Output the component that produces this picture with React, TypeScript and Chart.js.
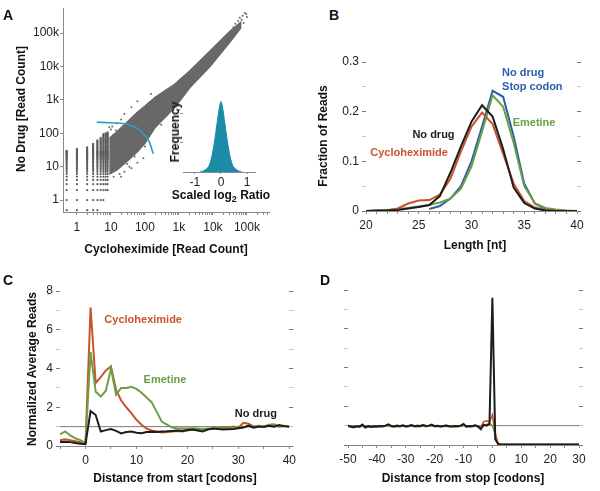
import React, { useEffect, useRef } from 'react';
import { Chart, registerables } from 'chart.js';

Chart.register(...registerables);

const FONT = "'Liberation Sans', Arial, Helvetica, sans-serif";
const RED = '#c9532d';
const GREEN = '#6b9f45';
const BLUE = '#2c5ea9';
const BLACK = '#1c1c1c';
const CLOUD = '#686868';
const TEAL = '#1b8ba8';
const CYAN = '#29a2c0';
const TICK_TEXT = '#222';
const AXIS = '#8a8a8a';

// ---------------- Panel A: scatter of read counts ----------------
const countTickValues = [1, 10, 100, 1000, 10000, 100000];
const countTickLabels = ['1', '10', '100', '1k', '10k', '100k'];
const minorMultipliers = [2, 3, 4, 5, 6, 7, 8, 9];
const bandX = [9, 15, 29, 60, 100, 200, 760, 2100, 8200, 32000, 65000];
const bandLow = [6, 8, 14, 28, 50, 150, 600, 2350, 10000, 55000, 140000];
const bandHigh = [70, 110, 209, 420, 650, 1180, 2960, 7400, 29000, 114000, 210000];
const columnX = [0.5, 1, 2, 3, 4, 5, 6, 7, 8];
const columnTop = [31, 35, 39, 49, 64, 76, 96, 100, 108];
const columnBottom = [0.5, 0.5, 0.5, 0.5, 0.5, 1, 1, 2, 2];
const countLevels = [0.5, 1, 2, 3, 4, 5, 6, 7, 8, 9, 10, 11, 12, 13, 14, 15, 16, 17, 18, 19, 20, 21, 22, 23, 24, 25, 26, 27, 28, 29, 30, 32, 34, 36, 38, 40, 42, 45, 48, 51, 54, 57, 61, 65, 69, 73, 78, 83, 88, 94, 100, 106];
const outlierX = [12, 18, 25, 40, 60, 90, 30, 50, 100, 300, 1000, 15, 20, 25, 40, 60, 150, 45000, 55000, 62000, 70000, 75000, 87000, 95000, 100000, 80000, 40000, 9, 10, 11, 12, 14, 35, 20];
const outlierY = [5, 6, 7, 9, 13, 18, 12, 20, 40, 180, 500, 200, 260, 380, 600, 900, 1500, 190000, 230000, 287000, 250000, 330000, 400000, 370000, 300000, 200000, 150000, 150, 130, 160, 90, 120, 10, 5];
const arcX = [3.8, 9.3, 26, 41.5, 63, 100, 123, 141, 175];
const arcY = [214, 206, 192, 166, 136, 86, 65, 49, 24.5];

// inset histogram
const ratioX = [-0.8, -0.7, -0.6, -0.5, -0.45, -0.4, -0.35, -0.3, -0.25, -0.2, -0.15, -0.1, -0.05, 0, 0.05, 0.1, 0.15, 0.2, 0.25, 0.3, 0.35, 0.4, 0.45, 0.5, 0.6, 0.7, 0.8];
const ratioFreq = [0, 0.01, 0.03, 0.06, 0.09, 0.14, 0.21, 0.3, 0.41, 0.53, 0.66, 0.79, 0.9, 0.96, 0.9, 0.79, 0.66, 0.53, 0.41, 0.3, 0.21, 0.14, 0.09, 0.06, 0.03, 0.01, 0];
const ratioTicks = [-1, 0, 1];

// ---------------- Panel B: read length ----------------
const lengthNt = [20, 21, 22, 23, 24, 25, 26, 27, 28, 29, 30, 31, 32, 33, 34, 35, 36, 37, 38, 39, 40];
const lenCyclo = [0, 0, 0.001, 0.005, 0.015, 0.021, 0.022, 0.033, 0.065, 0.12, 0.17, 0.198, 0.175, 0.115, 0.055, 0.02, 0.007, 0.002, 0, 0, 0];
const lenNoDrug = [0, 0.001, 0.001, 0.002, 0.005, 0.008, 0.012, 0.03, 0.077, 0.13, 0.18, 0.213, 0.19, 0.125, 0.047, 0.016, 0.005, 0.001, 0, 0, 0];
const lenEmetine = [0, 0.001, 0.002, 0.004, 0.006, 0.009, 0.012, 0.017, 0.025, 0.045, 0.09, 0.16, 0.233, 0.21, 0.137, 0.05, 0.016, 0.006, 0.003, 0.001, 0];
const lenStop = [null, null, null, null, null, null, 0.004, 0.01, 0.025, 0.05, 0.1, 0.17, 0.242, 0.23, 0.15, 0.055, 0.015, 0.004, 0.001, 0, 0];

// ---------------- Panel C: distance from start ----------------
const startPos = [-5, -4, -3, -2, -1, 0, 1, 2, 3, 4, 5, 6, 7, 8, 9, 10, 11, 12, 13, 14, 15, 16, 17, 18, 19, 20, 21, 22, 23, 24, 25, 26, 27, 28, 29, 30, 31, 32, 33, 34, 35, 36, 37, 38, 39, 40];
const startCyclo = [0.3, 0.35, 0.3, 0.25, 0.2, 0.15, 7.15, 3.25, 3.55, 3.9, 4.1, 2.9, 2.35, 2.0, 1.7, 1.35, 1.1, 0.9, 0.8, 0.75, 0.7, 0.72, 0.75, 0.78, 0.75, 0.8, 0.85, 0.88, 0.85, 0.88, 0.9, 0.95, 0.97, 0.95, 1.0, 0.95, 1.2, 1.15, 1.0, 1.05, 0.98, 1.05, 1.1, 1.0, 1.05, 1.0];
const startEmetine = [0.6, 0.75, 0.55, 0.4, 0.3, 0.15, 4.85, 2.8, 2.55, 2.85, 4.0, 2.65, 3.0, 3.0, 3.05, 2.95, 2.75, 2.5, 2.25, 1.75, 1.25, 1.1, 0.95, 0.9, 0.9, 0.9, 0.92, 0.9, 0.88, 0.9, 0.92, 0.95, 0.9, 0.92, 0.95, 0.95, 1.0, 1.02, 1.0, 1.05, 1.0, 1.1, 1.12, 1.0, 1.05, 1.0];
const startNoDrug = [0.2, 0.22, 0.2, 0.15, 0.12, 0.1, 1.8, 1.6, 0.75, 0.82, 0.88, 0.78, 0.65, 0.72, 0.75, 0.68, 0.66, 0.72, 0.74, 0.72, 0.75, 0.76, 0.78, 0.8, 0.78, 0.82, 0.85, 0.8, 0.75, 0.85, 0.9, 0.88, 0.85, 0.87, 0.88, 0.92, 0.95, 1.05, 0.95, 1.0, 1.0, 1.05, 1.0, 1.08, 1.02, 1.0];
const startRefX = [-5, 40];
const refLevel = [1, 1];

// ---------------- Panel D: distance from stop ----------------
const stopPos = [-50, -49, -48, -47, -46, -45, -44, -43, -42, -41, -40, -39, -38, -37, -36, -35, -34, -33, -32, -31, -30, -29, -28, -27, -26, -25, -24, -23, -22, -21, -20, -19, -18, -17, -16, -15, -14, -13, -12, -11, -10, -9, -8, -7, -6, -5, -4, -3, -2, -1, 0, 1, 2, 3, 4, 5, 6, 7, 8, 9, 10, 11, 12, 13, 14, 15, 16, 17, 18, 19, 20, 21, 22, 23, 24, 25, 26, 27, 28, 29, 30];
const stopNoDrug = [1.0, 0.95, 0.92, 0.97, 0.95, 1.05, 0.9, 0.98, 0.93, 0.97, 0.95, 0.98, 0.97, 1.0, 1.07, 0.98, 0.96, 1.0, 0.97, 1.02, 0.96, 0.98, 1.03, 0.97, 0.99, 0.98, 1.03, 0.98, 1.0, 1.05, 0.97, 0.99, 0.96, 0.98, 1.0, 0.97, 0.96, 0.98, 0.97, 1.0, 1.08, 0.95, 0.98, 0.97, 1.02, 0.96, 0.82, 1.05, 1.0, 1.1, 7.6, 0.3, 0.05, 0.03, 0.03, 0.03, 0.03, 0.03, 0.03, 0.03, 0.03, 0.03, 0.03, 0.03, 0.03, 0.03, 0.03, 0.03, 0.03, 0.03, 0.03, 0.03, 0.03, 0.03, 0.03, 0.03, 0.03, 0.03, 0.03, 0.03, 0.03];
const stopCyclo = [0.98, 0.96, 0.94, 0.98, 0.96, 1.03, 0.93, 0.97, 0.95, 0.98, 0.96, 0.99, 0.98, 1.0, 1.05, 0.99, 0.97, 1.0, 0.98, 1.01, 0.97, 0.99, 1.02, 0.98, 1.0, 0.99, 1.02, 0.99, 1.0, 1.03, 0.98, 1.0, 0.97, 0.99, 1.0, 0.98, 0.97, 0.99, 0.98, 1.0, 1.05, 0.96, 0.99, 0.98, 1.01, 0.97, 0.9, 1.2, 1.25, 1.2, 1.55, 0.6, 0.05, 0.02, 0.02, 0.02, 0.02, 0.02, 0.02, 0.02, 0.02, 0.02, 0.02, 0.02, 0.02, 0.02, 0.02, 0.02, 0.02, 0.02, 0.02, 0.02, 0.02, 0.02, 0.02, 0.02, 0.02, 0.02, 0.02, 0.02, 0.02];
const stopEmetine = [0.96, 0.93, 0.9, 0.94, 0.93, 0.98, 0.9, 0.94, 0.92, 0.95, 0.93, 0.95, 0.94, 0.97, 1.0, 0.95, 0.94, 0.96, 0.95, 0.98, 0.94, 0.96, 0.98, 0.95, 0.96, 0.95, 0.98, 0.95, 0.97, 1.0, 0.95, 0.97, 0.94, 0.96, 0.97, 0.95, 0.94, 0.96, 0.95, 0.97, 1.0, 0.94, 0.96, 0.95, 0.98, 0.95, 0.9, 1.0, 1.05, 1.1, 1.0, 0.5, 0.05, 0.02, 0.02, 0.02, 0.02, 0.02, 0.02, 0.02, 0.02, 0.02, 0.02, 0.02, 0.02, 0.02, 0.02, 0.02, 0.02, 0.02, 0.02, 0.02, 0.02, 0.02, 0.02, 0.02, 0.02, 0.02, 0.02, 0.02, 0.02];
const stopRefX = [-50, 30];

// ---------------- helpers ----------------
const pts = (xs: number[], ys: (number | null)[]) => xs.map((x, i) => ({ x, y: ys[i] }));
const fixW = (w: number) => (s: any) => { s.width = w; };
const fixH = (h: number) => (s: any) => { s.height = h; };
const setTicks = (vals: number[]) => (s: any) => { s.ticks = vals.map((v) => ({ value: v })); };
const tickFont = { family: FONT, size: 12 };

const labelPlugin = {
  id: 'dataLabels',
  afterDatasetsDraw(chart: any, _a: any, opts: any) {
    const items = (opts && opts.items) || [];
    const { ctx } = chart;
    const xs = chart.scales.x;
    const ys = chart.scales.y;
    ctx.save();
    for (const it of items) {
      ctx.font = `bold 11px ${FONT}`;
      ctx.fillStyle = it.color;
      ctx.textAlign = 'left';
      ctx.textBaseline = 'middle';
      ctx.fillText(it.text, xs.getPixelForValue(it.x), ys.getPixelForValue(it.y));
    }
    ctx.restore();
  },
};

const base = (padding: any, labels: any[] = []) => ({
  responsive: false,
  animation: false as const,
  devicePixelRatio: 1,
  events: [] as any[],
  layout: { padding },
  plugins: { legend: { display: false }, tooltip: { enabled: false }, dataLabels: { items: labels } },
});

const lineDs = (data: any, color: string, width = 2) => ({
  data,
  borderColor: color,
  backgroundColor: color,
  borderWidth: width,
  pointRadius: 0,
  tension: 0,
  fill: false,
  spanGaps: false,
});

function configA(): any {
  const xTicks = countTickValues.flatMap((d) => [d, ...minorMultipliers.map((m) => d * m)]).filter((v) => v <= 445000);
  const bandPoly = [...pts(bandX, bandHigh), ...pts(bandX, bandLow).reverse()];
  const colPts: any[] = [];
  columnX.forEach((x, i) => {
    countLevels.filter((l) => l >= columnBottom[i] && l <= columnTop[i]).forEach((y) => colPts.push({ x, y }));
  });
  const lbl = (v: number) => {
    const k = countTickValues.findIndex((t) => Math.abs(t - v) < 1e-6 * t);
    return k >= 0 ? countTickLabels[k] : '';
  };
  return {
    type: 'line',
    data: {
      datasets: [
        { ...lineDs(pts(arcX, arcY), CYAN, 1.6), tension: 0.4 },
        { data: pts(outlierX, outlierY), showLine: false, pointRadius: 1, pointBorderWidth: 0, pointBackgroundColor: CLOUD },
        { data: colPts, showLine: false, pointRadius: 1.1, pointBorderWidth: 0, pointBackgroundColor: '#5e5e5e' },
        { data: bandPoly, borderColor: CLOUD, backgroundColor: CLOUD, borderWidth: 1.5, pointRadius: 0, tension: 0, fill: 'shape' },
      ],
    },
    options: {
      ...base({ left: 14, top: 7, right: 21, bottom: 6 }),
      scales: {
        x: {
          type: 'logarithmic', min: 0.39, max: 445000, afterFit: fixH(44), afterBuildTicks: setTicks(xTicks),
          ticks: { autoSkip: false, maxRotation: 0, callback: (v: any) => lbl(Number(v)), font: tickFont, color: TICK_TEXT, padding: 5 },
          grid: { drawOnChartArea: false, drawTicks: true, tickLength: 3, color: AXIS },
          border: { display: true, color: AXIS },
        },
        y: {
          type: 'logarithmic', min: 0.44, max: 553000, afterFit: fixW(49), afterBuildTicks: setTicks(countTickValues),
          ticks: { autoSkip: false, callback: (v: any) => lbl(Number(v)), font: tickFont, color: TICK_TEXT, padding: 1 },
          grid: { drawOnChartArea: false, drawTicks: true, tickLength: 3, color: AXIS },
          border: { display: true, color: AXIS },
        },
      },
    },
  };
}

function configInset(): any {
  return {
    type: 'line',
    data: {
      datasets: [{ data: pts(ratioX, ratioFreq), borderColor: TEAL, backgroundColor: TEAL, borderWidth: 1, pointRadius: 0, tension: 0.3, fill: 'origin' }],
    },
    options: {
      ...base({ left: 8, top: 9, right: 20, bottom: 1 }),
      scales: {
        x: {
          type: 'linear', min: -1.45, max: 1.3, afterFit: fixH(32), afterBuildTicks: setTicks(ratioTicks),
          ticks: { autoSkip: false, maxRotation: 0, font: tickFont, color: TICK_TEXT, padding: 1 },
          grid: { drawOnChartArea: false, tickLength: 2, color: AXIS },
          border: { display: true, color: AXIS },
        },
        y: {
          type: 'linear', min: 0, max: 1.2, afterFit: fixW(15), afterBuildTicks: setTicks([0.4, 0.8]),
          ticks: { display: false },
          grid: { drawOnChartArea: false, tickLength: 3, color: AXIS },
          border: { display: false },
        },
      },
    },
  };
}

const rightAxis = (min: number, max: number, step: number, isMajor: (v: number) => boolean) => ({
  type: 'linear', position: 'right', min, max, afterFit: fixW(4),
  ticks: { display: false, stepSize: step },
  grid: { drawOnChartArea: false, tickLength: 4, tickColor: (c: any) => (c.tick && isMajor(c.tick.value) ? '#777' : '#c4c4c4') },
  border: { display: false },
});

function configB(): any {
  const major = (v: number) => Math.round(v * 100) % 10 === 0;
  return {
    type: 'line',
    data: {
      datasets: [
        lineDs(pts(lengthNt, lenNoDrug), BLACK),
        lineDs(pts(lengthNt, lenCyclo), RED),
        lineDs(pts(lengthNt, lenEmetine), GREEN),
        lineDs(pts(lengthNt, lenStop), BLUE),
      ],
    },
    options: {
      ...base({ left: 16, top: 22, right: 19, bottom: 3 }, [
        { text: 'No drug', x: 32.9, y: 0.278, color: BLUE },
        { text: 'Stop codon', x: 32.9, y: 0.25, color: BLUE },
        { text: 'Emetine', x: 33.9, y: 0.177, color: GREEN },
        { text: 'No drug', x: 24.4, y: 0.153, color: BLACK },
        { text: 'Cycloheximide', x: 20.4, y: 0.117, color: RED },
      ]),
      scales: {
        x: {
          type: 'linear', min: 20, max: 40, afterFit: fixH(41),
          ticks: { stepSize: 1, autoSkip: false, maxRotation: 0, callback: (v: any) => (Number(v) % 5 === 0 ? String(v) : ''), font: tickFont, color: TICK_TEXT, padding: 4 },
          grid: { drawOnChartArea: false, tickLength: 3, color: AXIS },
          border: { display: true, color: AXIS },
        },
        y: {
          type: 'linear', min: 0, max: 0.3, afterFit: fixW(50),
          ticks: { stepSize: 0.05, autoSkip: false, callback: (v: any) => { const t = Math.round(Number(v) * 100); return t % 10 === 0 ? (t === 0 ? '0' : (t / 100).toFixed(1)) : ''; }, font: tickFont, color: TICK_TEXT, padding: 3 },
          grid: { drawOnChartArea: false, tickLength: 4, tickColor: (c: any) => (c.tick && major(c.tick.value) ? '#777' : '#c4c4c4') },
          border: { display: false },
        },
        y2: rightAxis(0, 0.3, 0.05, major),
      },
    },
  };
}

function configC(): any {
  const major = (v: number) => Math.round(v) % 2 === 0;
  return {
    type: 'line',
    data: {
      datasets: [
        lineDs(pts(startPos, startNoDrug), BLACK),
        lineDs(pts(startPos, startEmetine), GREEN),
        lineDs(pts(startPos, startCyclo), RED),
        lineDs(pts(startRefX, refLevel), '#7a7a7a', 1),
      ],
    },
    options: {
      ...base({ left: 25, top: 26, right: 4, bottom: 6 }, [
        { text: 'Cycloheximide', x: 3.7, y: 6.49, color: RED },
        { text: 'Emetine', x: 11.4, y: 3.4, color: GREEN },
        { text: 'No drug', x: 29.3, y: 1.65, color: BLACK },
      ]),
      scales: {
        x: {
          type: 'linear', min: -5, max: 40, afterFit: fixH(39),
          ticks: { stepSize: 5, autoSkip: false, maxRotation: 0, callback: (v: any) => (Number(v) % 10 === 0 ? String(v) : ''), font: tickFont, color: TICK_TEXT, padding: 4 },
          grid: { drawOnChartArea: false, tickLength: 3, color: AXIS },
          border: { display: true, color: AXIS },
        },
        y: {
          type: 'linear', min: 0, max: 8, afterFit: fixW(35),
          ticks: { stepSize: 1, autoSkip: false, callback: (v: any) => (major(Number(v)) ? String(v) : ''), font: tickFont, color: TICK_TEXT, padding: 3 },
          grid: { drawOnChartArea: false, tickLength: 4, tickColor: (c: any) => (c.tick && major(c.tick.value) ? '#777' : '#c4c4c4') },
          border: { display: false },
        },
        y2: rightAxis(0, 8, 1, major),
      },
    },
  };
}

function configD(): any {
  const major = (v: number) => Math.round(v) % 2 === 0;
  return {
    type: 'line',
    data: {
      datasets: [
        lineDs(pts(stopPos, stopNoDrug), BLACK, 2),
        lineDs(pts(stopPos, stopCyclo), RED, 1.6),
        lineDs(pts(stopPos, stopEmetine), GREEN, 1.6),
        lineDs(pts(stopRefX, refLevel), '#7a7a7a', 1),
      ],
    },
    options: {
      ...base({ left: 44, top: 25, right: 17, bottom: 7 }),
      scales: {
        x: {
          type: 'linear', min: -50, max: 30, afterFit: fixH(39),
          ticks: { stepSize: 5, autoSkip: false, maxRotation: 0, callback: (v: any) => (Number(v) % 10 === 0 ? String(v) : ''), font: tickFont, color: TICK_TEXT, padding: 4 },
          grid: { drawOnChartArea: false, tickLength: 3, color: AXIS },
          border: { display: true, color: AXIS },
        },
        y: {
          type: 'linear', min: 0, max: 8, afterFit: fixW(4),
          ticks: { stepSize: 1, display: false },
          grid: { drawOnChartArea: false, tickLength: 4, tickColor: (c: any) => (c.tick && major(c.tick.value) ? '#777' : '#c4c4c4') },
          border: { display: false },
        },
        y2: rightAxis(0, 8, 1, major),
      },
    },
  };
}

const boxes = [
  { left: 0, top: 0, width: 290, height: 262 },
  { left: 300, top: 40, width: 300, height: 215 },
  { left: 0, top: 265, width: 300, height: 226 },
  { left: 300, top: 265, width: 300, height: 226 },
  { left: 160, top: 75, width: 115, height: 130 },
];

const letters = [
  { t: 'A', left: 3, top: 8 },
  { t: 'B', left: 329, top: 8 },
  { t: 'C', left: 3, top: 273 },
  { t: 'D', left: 320, top: 273 },
];

const axisTitles: { text: React.ReactNode; cx: number; cy: number; vertical?: boolean }[] = [
  { text: 'Cycloheximide [Read Count]', cx: 166, cy: 249 },
  { text: 'No Drug [Read Count]', cx: 21, cy: 109, vertical: true },
  { text: <>Scaled log<sub style={{ fontSize: 9, verticalAlign: -3 }}>2</sub> Ratio</>, cx: 221, cy: 197 },
  { text: 'Frequency', cx: 175, cy: 132, vertical: true },
  { text: 'Length [nt]', cx: 475, cy: 245 },
  { text: 'Fraction of Reads', cx: 323, cy: 136, vertical: true },
  { text: 'Distance from start [codons]', cx: 175, cy: 478 },
  { text: 'Normalized Average Reads', cx: 32, cy: 369, vertical: true },
  { text: 'Distance from stop [codons]', cx: 463, cy: 478 },
];

export default function App() {
  const r0 = useRef<HTMLCanvasElement>(null);
  const r1 = useRef<HTMLCanvasElement>(null);
  const r2 = useRef<HTMLCanvasElement>(null);
  const r3 = useRef<HTMLCanvasElement>(null);
  const r4 = useRef<HTMLCanvasElement>(null);
  const refs = [r0, r1, r2, r3, r4];

  useEffect(() => {
    const cfgs = [configA(), configB(), configC(), configD(), configInset()];
    const charts = cfgs.map((cfg, i) => {
      cfg.plugins = [labelPlugin];
      return new Chart(refs[i].current as HTMLCanvasElement, cfg);
    });
    return () => charts.forEach((c) => c.destroy());
  }, []);

  return (
    <div style={{ position: 'absolute', left: 0, top: 0, width: 600, height: 491, background: '#fff', overflow: 'hidden' }}>
      {boxes.map((b, i) => (
        <canvas key={i} ref={refs[i]} width={b.width} height={b.height} style={{ position: 'absolute', left: b.left, top: b.top, width: b.width, height: b.height }} />
      ))}
      {axisTitles.map((a, i) => (
        <div
          key={'t' + i}
          style={{
            position: 'absolute', left: a.cx, top: a.cy, whiteSpace: 'nowrap',
            transform: a.vertical ? 'translate(-50%,-50%) rotate(-90deg)' : 'translate(-50%,-50%)',
            font: `bold 12px ${FONT}`, lineHeight: '14px', color: '#111',
          }}
        >
          {a.text}
        </div>
      ))}
      {letters.map((l) => (
        <div key={l.t} style={{ position: 'absolute', left: l.left, top: l.top, font: `bold 14px ${FONT}`, lineHeight: '14px', color: '#111' }}>{l.t}</div>
      ))}
    </div>
  );
}
